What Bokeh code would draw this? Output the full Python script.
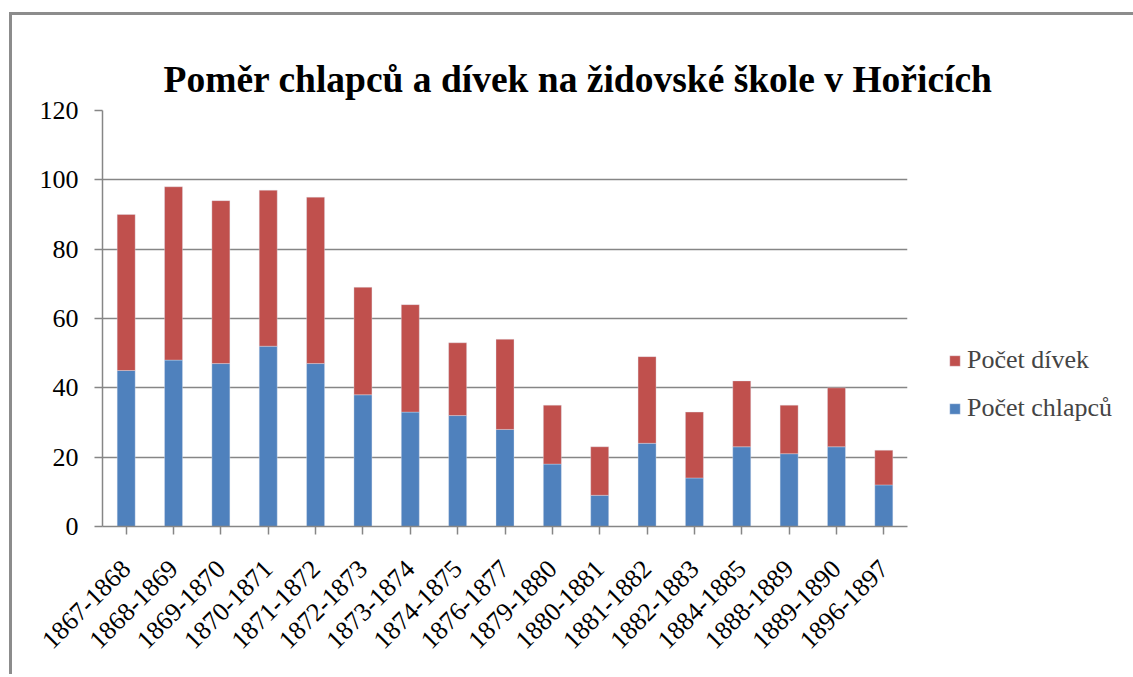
import math
from bokeh.plotting import figure
from bokeh.models import Legend, LegendItem, ColumnDataSource, Title
from bokeh.embed import file_html
from bokeh.resources import INLINE

years = ["1867-1868", "1868-1869", "1869-1870", "1870-1871", "1871-1872", "1872-1873",
         "1873-1874", "1874-1875", "1876-1877", "1879-1880", "1880-1881", "1881-1882",
         "1882-1883", "1884-1885", "1888-1889", "1889-1890", "1896-1897"]
chlapci = [45, 48, 47, 52, 47, 38, 33, 32, 28, 18, 9, 24, 14, 23, 21, 23, 12]
divky = [45, 50, 47, 45, 48, 31, 31, 21, 26, 17, 14, 25, 19, 19, 14, 17, 10]
series_names = ["Počet chlapců", "Počet dívek"]
colors = ["#4F81BD", "#C0504D"]
title_text = "Poměr chlapců a dívek na židovské škole v Hořicích"

FONT = "Liberation Serif"
GRAY = "#868686"

src = ColumnDataSource(dict(x=years, chlapci=chlapci, divky=divky))

p = figure(x_range=years, y_range=(0, 120), frame_width=805, frame_height=416,
           output_backend="svg", toolbar_location=None,
           min_border_left=90, min_border_right=0, min_border_top=95, min_border_bottom=148)

p.styles = {"border-left": "3px solid #8c8c8c", "border-top": "3px solid #8c8c8c",
            "margin-left": "9px", "margin-top": "12px"}

rs = p.vbar_stack(["chlapci", "divky"], x="x", width=0.38, source=src,
                  color=colors, line_color="#dfe6f0", line_width=0.6, line_alpha=0.6)

p.title = None
p.add_layout(Title(text=title_text, text_font=FONT, text_font_size="37.5px",
                   text_font_style="bold", text_color="black", align="left",
                   offset=61, standoff=22), "above")

p.outline_line_color = None
p.background_fill_color = "white"
p.border_fill_color = "white"

p.xgrid.grid_line_color = None
p.ygrid.grid_line_color = GRAY
p.ygrid.grid_line_width = 1.5

p.yaxis.ticker = [0, 20, 40, 60, 80, 100, 120]
for ax in (p.xaxis[0], p.yaxis[0]):
    ax.axis_line_color = GRAY
    ax.axis_line_width = 1.5
    ax.major_tick_line_color = GRAY
    ax.major_tick_line_width = 1.5
    ax.major_tick_out = 8
    ax.major_tick_in = 0
    ax.minor_tick_line_color = None
    ax.major_label_text_font = FONT
    ax.major_label_text_color = "black"
p.yaxis.major_label_standoff = 16
p.yaxis.major_label_text_font_size = "26px"
p.xaxis.major_label_text_font_size = "26px"
p.xaxis.major_label_orientation = math.pi / 4
p.xaxis.major_label_standoff = 30

legend = Legend(items=[LegendItem(label=series_names[1], renderers=[rs[1]]),
                       LegendItem(label=series_names[0], renderers=[rs[0]])],
                location=(41, 103), orientation="vertical",
                label_text_font=FONT, label_text_font_size="26px",
                glyph_width=13, glyph_height=13, spacing=18, label_standoff=6,
                border_line_color=None, background_fill_alpha=0, padding=0, margin=0)
p.add_layout(legend, "right")

open("out.html", "w").write(file_html(p, INLINE))
